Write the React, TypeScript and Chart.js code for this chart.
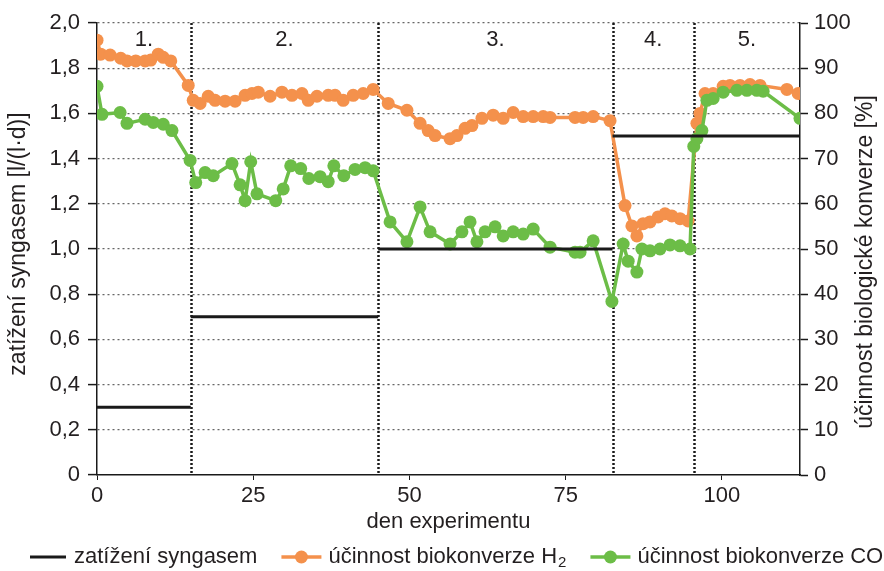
import React, { useEffect, useRef } from "react";
import { Chart, registerables } from "chart.js";

Chart.register(...registerables);

// ---- data ----
const loadStart = [0, 15, 45, 82.5];
const loadEnd = [15, 45, 82.5, 112.5];
const loadValue = [0.3, 0.7, 1.0, 1.5];

const h2Days = [0, 0.6, 2.1, 3.8, 4.8, 6.2, 7.7, 8.6, 9.8, 10.6, 11.8, 14.6, 15.4, 16.5, 17.8, 18.9, 20.5, 22.1, 23.7, 24.8, 25.8, 27.7, 29.6, 31.2, 32.8, 33.8, 35.2, 37.0, 38.1, 39.4, 41.0, 42.6, 44.2, 46.6, 49.6, 51.7, 53.0, 54.1, 56.5, 57.6, 58.9, 60.0, 61.6, 63.4, 65.0, 66.6, 68.2, 69.8, 71.4, 72.5, 76.5, 77.8, 79.4, 82.1, 84.5, 85.6, 86.4, 87.4, 88.5, 89.8, 90.9, 92.0, 93.3, 94.6, 96.0, 96.5, 97.3, 98.6, 100.2, 101.3, 102.9, 104.5, 106.1, 110.4, 112.2];
const h2Values = [96.2, 93.1, 92.9, 92.2, 91.6, 91.6, 91.6, 91.8, 93.1, 92.4, 91.6, 86.2, 82.9, 82.2, 83.8, 82.9, 82.7, 82.7, 84.0, 84.4, 84.7, 83.8, 84.7, 84.0, 84.4, 82.9, 83.8, 84.0, 84.0, 82.9, 84.0, 84.4, 85.3, 82.2, 80.7, 77.8, 76.2, 75.1, 74.4, 75.1, 76.7, 77.3, 78.9, 79.6, 78.9, 80.2, 79.3, 79.3, 79.3, 79.1, 79.1, 79.1, 79.3, 78.4, 59.6, 55.1, 52.9, 55.6, 56.0, 57.1, 57.8, 57.3, 56.7, 56.2, 77.8, 80.0, 84.4, 84.4, 86.0, 86.2, 86.2, 86.4, 86.2, 85.3, 84.4];

const coDays = [0, 0.8, 3.7, 4.8, 7.7, 9.0, 10.6, 12.0, 14.9, 15.8, 17.3, 18.6, 21.6, 22.9, 23.7, 24.6, 25.6, 28.6, 29.8, 31.0, 32.6, 33.9, 35.7, 37.0, 37.9, 39.5, 41.3, 42.9, 44.2, 46.9, 49.6, 51.7, 53.3, 56.5, 58.4, 59.7, 60.8, 62.1, 63.7, 65.0, 66.6, 68.2, 69.8, 72.5, 76.5, 77.3, 79.4, 82.4, 84.2, 85.0, 86.4, 87.2, 88.5, 90.1, 91.7, 93.3, 94.9, 95.5, 96.0, 96.8, 97.6, 98.6, 100.2, 102.4, 104.0, 105.6, 106.6, 112.5];
const coValues = [86.0, 79.8, 80.2, 77.8, 78.7, 78.0, 77.6, 76.2, 69.6, 64.7, 66.9, 66.2, 68.9, 64.2, 60.7, 69.3, 62.2, 60.7, 63.3, 68.4, 67.8, 65.6, 66.0, 64.9, 68.4, 66.2, 67.6, 68.0, 67.3, 56.0, 51.6, 59.3, 53.8, 51.1, 53.8, 56.0, 51.6, 53.8, 54.9, 52.9, 53.8, 53.3, 54.4, 50.4, 49.3, 49.3, 51.8, 38.4, 51.1, 47.3, 44.9, 50.0, 49.6, 50.0, 50.9, 50.7, 50.0, 72.7, 74.4, 76.2, 82.9, 83.3, 84.7, 85.1, 85.1, 85.1, 84.9, 78.9];

const sectionBounds = [15, 45, 82.5, 95.5];
const sectionLabels = ["1.", "2.", "3.", "4.", "5."];
const xTicks = [0, 25, 50, 75, 100];

const seriesNames = ["zatížení syngasem", "účinnost biokonverze H", "účinnost biokonverze CO"];
const xTitle = "den experimentu";
const yLeftTitle = "zatížení syngasem [l/(l·d)]";
const yRightTitle = "účinnost biologické konverze [%]";

// ---- styles ----
const FONT = "'Liberation Sans', Arial, sans-serif";
const FS = 22;
const TFS = 23;
const TEXT = "#231f20";
const BLACK = "#1a1a1a";
const ORANGE = "#f4914c";
const GREEN = "#6cbd47";

export default function App() {
  const ref = useRef<HTMLCanvasElement | null>(null);

  useEffect(() => {
    if (!ref.current) return;

    const loadData: any[] = [];
    loadStart.forEach((s, i) => {
      loadData.push({ x: s, y: loadValue[i] });
      loadData.push({ x: loadEnd[i], y: loadValue[i] });
      if (i < loadStart.length - 1) loadData.push({ x: loadEnd[i], y: null });
    });

    const decor = {
      id: "decor",
      beforeDatasetsDraw(chart: any) {
        const { ctx, chartArea, scales } = chart;
        ctx.save();
        ctx.strokeStyle = BLACK;
        ctx.lineWidth = 2.5;
        ctx.setLineDash([2, 2]);
        sectionBounds.forEach((b) => {
          const px = Math.round(scales.x.getPixelForValue(b)) + 0.5;
          ctx.beginPath();
          ctx.moveTo(px, chartArea.top);
          ctx.lineTo(px, chartArea.bottom);
          ctx.stroke();
        });
        ctx.restore();
      },
      afterDraw(chart: any) {
        const { ctx, chartArea, scales } = chart;
        ctx.save();
        ctx.fillStyle = TEXT;
        ctx.font = `${FS}px ${FONT}`;
        ctx.textBaseline = "middle";
        ctx.textAlign = "center";
        // section labels
        const edges = [scales.x.min, ...sectionBounds, scales.x.max];
        sectionLabels.forEach((lab, i) => {
          const a = scales.x.getPixelForValue(edges[i]);
          const b = scales.x.getPixelForValue(edges[i + 1]);
          ctx.fillText(lab, (a + b) / 2, chartArea.top + 17);
        });
        // x title
        ctx.fillText(xTitle, (chartArea.left + chartArea.right) / 2, 522);
        // y titles
        ctx.font = `${TFS}px ${FONT}`;
        ctx.save();
        ctx.translate(19, 244);
        ctx.rotate(-Math.PI / 2);
        ctx.fillText(yLeftTitle, 0, 0);
        ctx.restore();
        ctx.save();
        ctx.translate(866, 262);
        ctx.rotate(-Math.PI / 2);
        ctx.fillText(yRightTitle, 0, 0);
        ctx.restore();
        ctx.font = `${FS}px ${FONT}`;

        // legend
        const ly = 557;
        let x = 30;
        const gap = 24;
        ctx.textAlign = "left";
        ctx.lineCap = "butt";
        ctx.strokeStyle = BLACK;
        ctx.lineWidth = 3;
        ctx.beginPath();
        ctx.moveTo(x, ly);
        ctx.lineTo(x + 36, ly);
        ctx.stroke();
        x += 44;
        ctx.fillText(seriesNames[0], x, ly);
        x += ctx.measureText(seriesNames[0]).width + gap;
        const marker = (color: string) => {
          ctx.strokeStyle = color;
          ctx.fillStyle = color;
          ctx.lineWidth = 3.5;
          ctx.beginPath();
          ctx.moveTo(x, ly);
          ctx.lineTo(x + 40, ly);
          ctx.stroke();
          ctx.beginPath();
          ctx.arc(x + 20, ly, 6.5, 0, Math.PI * 2);
          ctx.fill();
          x += 47;
          ctx.fillStyle = TEXT;
        };
        marker(ORANGE);
        ctx.fillText(seriesNames[1], x, ly);
        x += ctx.measureText(seriesNames[1]).width;
        ctx.font = `${Math.round(FS * 0.7)}px ${FONT}`;
        ctx.fillText("2", x + 1, ly + 6);
        x += ctx.measureText("2").width + 1 + gap;
        ctx.font = `${FS}px ${FONT}`;
        marker(GREEN);
        ctx.fillText(seriesNames[2], x, ly);
        ctx.restore();
      },
    };

    const tickFont = { family: FONT, size: FS };

    const chart = new Chart(ref.current, {
      type: "line",
      data: {
        datasets: [
          {
            label: seriesNames[0],
            data: loadData,
            yAxisID: "y",
            borderColor: BLACK,
            borderWidth: 3,
            pointRadius: 0,
            spanGaps: false,
            tension: 0,
          },
          {
            label: seriesNames[2],
            data: coDays.map((d, i) => ({ x: d, y: coValues[i] })),
            yAxisID: "y2",
            borderColor: GREEN,
            backgroundColor: GREEN,
            borderWidth: 3.5,
            pointRadius: 6.5,
            pointBorderWidth: 0,
            pointBackgroundColor: GREEN,
            tension: 0,
          },
          {
            label: seriesNames[1] + "2",
            data: h2Days.map((d, i) => ({ x: d, y: h2Values[i] })),
            yAxisID: "y2",
            borderColor: ORANGE,
            backgroundColor: ORANGE,
            borderWidth: 3.5,
            pointRadius: 6.5,
            pointBorderWidth: 0,
            pointBackgroundColor: ORANGE,
            tension: 0,
          },
        ],
      },
      options: {
        animation: false,
        responsive: false,
        maintainAspectRatio: false,
        layout: { padding: { top: 23, left: 0, right: 0, bottom: 0 } },
        plugins: { legend: { display: false }, tooltip: { enabled: false } },
        scales: {
          x: {
            type: "linear",
            position: "bottom",
            min: 0,
            max: 112.5,
            afterBuildTicks: (s: any) => {
              s.ticks = xTicks.map((v) => ({ value: v }));
            },
            afterFit: (s: any) => {
              s.height = 96;
            },
            grid: { display: true, drawOnChartArea: false, drawTicks: true, tickLength: 5, tickColor: BLACK, color: BLACK },
            border: { display: true, color: BLACK, width: 1.5 },
            ticks: { font: tickFont, color: TEXT, padding: 3, maxRotation: 0, autoSkip: false },
          },
          y: {
            position: "left",
            min: 0,
            max: 2,
            afterFit: (s: any) => {
              s.width = 97;
            },
            ticks: {
              stepSize: 0.2,
              font: tickFont,
              color: TEXT,
              padding: 8,
              callback: (v: any) => (Number(v) === 0 ? "0" : Number(v).toFixed(1).replace(".", ",")),
            },
            grid: {
              color: (c: any) => (c.tick && c.tick.value === 0 ? "rgba(0,0,0,0)" : "#666"),
              lineWidth: 1.2,
              tickColor: BLACK,
              tickLength: 9,
              tickWidth: 1.5,
              tickBorderDash: [],
            },
            border: { display: true, color: BLACK, width: 1.5, dash: [2, 3] },
          },
          y2: {
            position: "right",
            min: 0,
            max: 100,
            afterFit: (s: any) => {
              s.width = 84;
            },
            ticks: { stepSize: 10, font: tickFont, color: TEXT, padding: 6 },
            grid: { drawOnChartArea: false, tickColor: BLACK, tickLength: 8, tickWidth: 1.5, color: BLACK },
            border: { display: true, color: BLACK, width: 1.5 },
          },
        },
      },
      plugins: [decor],
    } as any);

    return () => chart.destroy();
  }, []);

  return (
    <div style={{ position: "absolute", left: 0, top: 0, width: 884, height: 571, background: "#fff" }}>
      <canvas ref={ref} width={884} height={571} style={{ display: "block" }} />
    </div>
  );
}
